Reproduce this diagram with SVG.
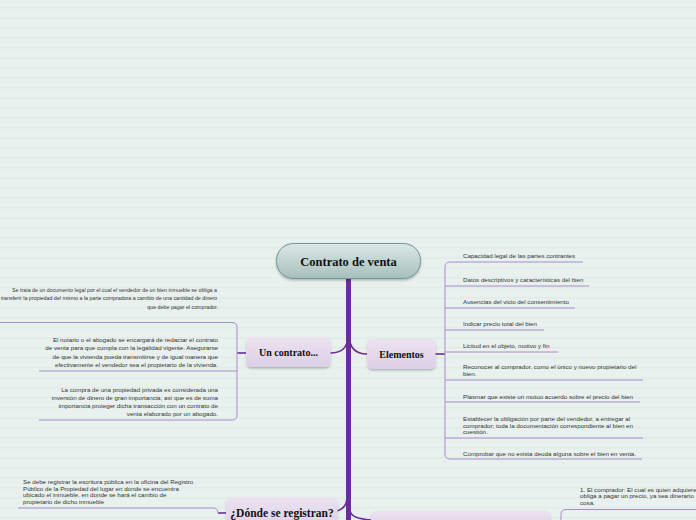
<svg xmlns="http://www.w3.org/2000/svg" width="696" height="520" viewBox="0 0 696 520">
<defs>
<pattern id="bgp" width="10" height="10" patternUnits="userSpaceOnUse">
<rect width="10" height="10" fill="#e9f1ef"/>
<rect y="7" width="10" height="1.5" fill="#e3ebe9"/>
</pattern>
<linearGradient id="gc" x1="0" y1="0" x2="0" y2="1">
<stop offset="0" stop-color="#dbe7e5"/>
<stop offset="1" stop-color="#a7c0bd"/>
</linearGradient>
<linearGradient id="gn" x1="0" y1="0" x2="0" y2="1">
<stop offset="0" stop-color="#ece3f1"/>
<stop offset="1" stop-color="#dccfe6"/>
</linearGradient>
<filter id="sh" x="-10%" y="-20%" width="120%" height="150%">
<feDropShadow dx="0" dy="1.5" stdDeviation="1.2" flood-color="#000" flood-opacity="0.25"/>
</filter>
</defs>
<style>
.title{font-family:"Liberation Serif","DejaVu Serif",serif;font-weight:bold;fill:#111;text-anchor:middle}
.t{font-family:"Liberation Sans",Arial,sans-serif;font-size:6.2px;fill:#333}
.s{font-size:5.3px}
.r{text-anchor:end}
.ln{fill:none;stroke:#a98cc6;stroke-width:1}
.br{fill:none;stroke:#6b2d9b;stroke-width:1.6}
.node{fill:url(#gn);filter:url(#sh)}
</style>
<rect width="696" height="520" fill="url(#bgp)"/>

<g id="connectors">
<path d="M348.5,278 V520" stroke="#6b2d9b" stroke-width="5" fill="none"/>
<path class="br" d="M348,334 C348,348 342,353 330,353"/>
<path class="br" d="M349,334 C349,348 355,354 367,354"/>
<path class="br" d="M347,497 C347,505 344,509 337,511"/>
<path class="br" d="M350,510 C350,516 356,519 371,520"/>
<path class="br" d="M435,354 H445"/>
<path class="br" d="M246,353 H237"/>
<path class="br" d="M226,513 H218"/>
</g>

<g id="central">
<rect x="276.5" y="243.5" width="144" height="35" rx="17" fill="url(#gc)" stroke="#6f9593" stroke-width="1" filter="url(#sh)"/>
<text class="title" x="348.5" y="266" font-size="12.5">Contrato de venta</text>
</g>

<g id="un-contrato">
<rect class="node" x="246.5" y="337" width="84" height="30" rx="5"/>
<text class="title" x="288.5" y="356" font-size="10">Un contrato...</text>
</g>

<g id="elementos">
<rect class="node" x="367.5" y="339" width="68" height="30" rx="5"/>
<text class="title" x="401.5" y="358" font-size="10">Elementos</text>
</g>

<g id="donde">
<rect class="node" x="226.5" y="497" width="111" height="32" rx="5"/>
<text class="title" x="282" y="517" font-size="11.5">¿Dónde se registran?</text>
</g>

<g id="bottom-node">
<rect class="node" x="371" y="511" width="179" height="20" rx="5"/>
</g>

<g id="elementos-leaves">
<path class="ln" d="M583,262 H450 Q445,262 445,267 V454 Q445,459 450,459 H642"/>
<path class="ln" d="M445,286 H589 M445,308 H575 M445,330 H544 M445,352 H558 M445,380 H643 M445,402 H640 M445,438 H643"/>
<text class="t" x="463" y="258">Capacidad legal de las partes contrantes</text>
<text class="t" x="463" y="282">Datos descriptivos y características del bien</text>
<text class="t" x="463" y="304">Ausencias del vicio del consentimiento</text>
<text class="t" x="463" y="326">Indicar precio total del bien</text>
<text class="t" x="463" y="348">Licitud en el objeto, motivo y fin</text>
<text class="t" x="463" y="369">Reconocer al comprador, como el único y nuevo propietario del</text>
<text class="t" x="463" y="376">bien.</text>
<text class="t" x="463" y="399">Plasmar que existe un mutuo acuerdo sobre el precio del bien</text>
<text class="t" x="463" y="421">Establecer la obligación por parte del vendedor, a entregar al</text>
<text class="t" x="463" y="427.5">comprador; toda la documentación correspondiente al bien en</text>
<text class="t" x="463" y="434">cuestión.</text>
<text class="t" x="463" y="455.5">Comprobar que no exista deuda alguna sobre el bien en venta.</text>
</g>

<g id="contrato-leaves">
<path class="ln" d="M0,322.5 H232 Q237,322.5 237,327.5 V415 Q237,420 232,420 H39"/>
<path class="ln" d="M39,371 H237"/>
<text class="t s r" x="217" y="292">Se trata de un documento legal por el cual el vendedor de un bien inmueble se obliga a</text>
<text class="t s r" x="217" y="300">transferir la propiedad del mismo a la parte compradora a cambio de una cantidad de dinero</text>
<text class="t s r" x="218" y="309">que debe pagar el comprador.</text>
<text class="t r" x="218" y="342">El notario o el abogado se encargará de redactar el contrato</text>
<text class="t r" x="218" y="350">de venta para que cumpla con la legalidad vigente. Asegurarse</text>
<text class="t r" x="218" y="358.5">de que la vivienda pueda transmitirse y de igual manera que</text>
<text class="t r" x="218" y="367">efectivamente el vendedor sea el propietario de la vivienda.</text>
<text class="t r" x="218" y="392">La compra de una propiedad privada es considerada una</text>
<text class="t r" x="218" y="400">inversión de dinero de gran importancia, así que es de suma</text>
<text class="t r" x="218" y="408">importancia proteger dicha transacción con un contrato de</text>
<text class="t r" x="218" y="416">venta elaborado por un abogado.</text>
</g>

<g id="donde-leaves">
<path class="ln" d="M18,508 H213 Q218,508 218,513"/>
<text class="t" x="23" y="484">Se debe registrar la escritura pública en la oficina del Registro</text>
<text class="t" x="23" y="490.5">Público de la Propiedad del lugar en donde se encuentra</text>
<text class="t" x="23" y="497">ubicado el inmueble, en donde se hará el cambio de</text>
<text class="t" x="23" y="503.5">propietario de dicho inmueble</text>
</g>

<g id="bottom-leaves">
<path class="ln" d="M700,509.5 H566 Q561,509.5 561,514.5 V525"/>
<text class="t" x="580" y="491.5">1. El comprador: El cual es quien adquiere</text>
<text class="t" x="580" y="498">obliga a pagar un precio, ya sea dinerario</text>
<text class="t" x="580" y="504.5">cosa.</text>
</g>
</svg>
